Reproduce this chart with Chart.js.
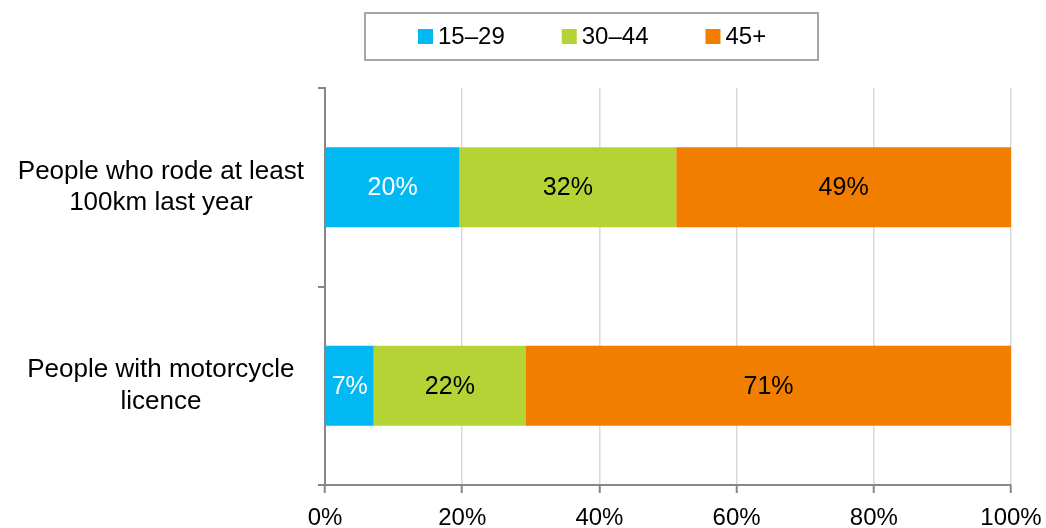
<!DOCTYPE html>
<html>
<head>
<meta charset="utf-8">
<script src="https://cdn.jsdelivr.net/npm/chart.js@4"></script>
<style>
  html, body { margin: 0; padding: 0; background: #ffffff; }
  #wrap { width: 1046px; height: 528px; position: relative; }
</style>
</head>
<body>
<div id="wrap"><canvas id="c"></canvas></div>
<script>
// ---- data ----
const categories = [
  ['People who rode at least', '100km last year'],
  ['People with motorcycle', 'licence']
];
const seriesNames = ['15–29', '30–44', '45+'];
const age15to29 = [19.6, 7.1];
const age30to44 = [31.6, 22.2];
const age45plus = [48.8, 70.7];
const xTicks = [0, 20, 40, 60, 80, 100];

// ---- styles ----
const FONT = "'Liberation Sans', Arial, sans-serif";
const colors = ['#00B9F2', '#B5D334', '#F27E00'];
const labelColors = ['#ffffff', '#000000', '#000000'];
const axisGray = '#878787';

const dataLabelPlugin = {
  id: 'dataLabels',
  afterDatasetsDraw(chart) {
    const ctx = chart.ctx;
    ctx.save();
    ctx.font = '25px ' + FONT;
    ctx.textAlign = 'center';
    ctx.textBaseline = 'middle';
    chart.data.datasets.forEach((ds, i) => {
      const meta = chart.getDatasetMeta(i);
      meta.data.forEach((bar, j) => {
        const v = ds.data[j];
        ctx.fillStyle = labelColors[i];
        ctx.fillText(Math.round(v) + '%', (bar.x + bar.base) / 2, bar.y + 1);
      });
    });
    ctx.restore();
  }
};

const boxLegendPlugin = {
  id: 'boxLegend',
  afterDraw(chart) {
    const ctx = chart.ctx;
    const box = { left: 365, top: 13, right: 818, bottom: 60 };
    ctx.save();
    ctx.strokeStyle = '#a6a6a6';
    ctx.lineWidth = 2;
    ctx.strokeRect(box.left, box.top, box.right - box.left, box.bottom - box.top);
    ctx.font = '24px ' + FONT;
    ctx.textBaseline = 'middle';
    ctx.textAlign = 'left';
    const sq = 15, gapText = 5, gapItem = 57;
    const items = chart.data.datasets.map(d => ({ label: d.label, color: d.backgroundColor, w: ctx.measureText(d.label).width }));
    let x = 418;
    const cy = (box.top + box.bottom) / 2;
    items.forEach(it => {
      ctx.fillStyle = it.color;
      ctx.fillRect(x, cy - sq / 2, sq, sq);
      ctx.fillStyle = '#000000';
      ctx.fillText(it.label, x + sq + gapText, cy + 1);
      x += sq + gapText + it.w + gapItem;
    });
    ctx.restore();
  }
};

const seriesData = [age15to29, age30to44, age45plus];

new Chart(document.getElementById('c'), {
  type: 'bar',
  data: {
    labels: categories,
    datasets: seriesNames.map((name, i) => ({
      label: name,
      data: seriesData[i],
      backgroundColor: colors[i],
      borderWidth: 0,
      categoryPercentage: 0.403,
      barPercentage: 1
    }))
  },
  options: {
    indexAxis: 'y',
    responsive: true,
    maintainAspectRatio: false,
    animation: false,
    layout: { padding: { top: 88, right: 35, bottom: 0, left: 0 } },
    plugins: {
      legend: { display: false },
      tooltip: { enabled: false }
    },
    scales: {
      x: {
        stacked: true,
        min: 0,
        max: 100,
        afterBuildTicks(scale) { scale.ticks = xTicks.map(v => ({ value: v })); },
        afterFit(scale) {
          scale.height = 43;
          scale.paddingLeft = 0;
          scale.paddingRight = 0;
        },
        ticks: {
          callback: v => v + '%',
          font: { family: FONT, size: 24 },
          color: '#000000',
          padding: 11,
          maxRotation: 0
        },
        grid: {
          color: '#d9d9d9',
          lineWidth: 1.5,
          tickColor: axisGray,
          tickLength: 8,
          tickWidth: 2
        },
        border: { display: true, color: axisGray, width: 2 }
      },
      y: {
        stacked: true,
        afterFit(scale) {
          scale.width = 325;
          scale.paddingTop = 0;
          scale.paddingBottom = 0;
        },
        ticks: {
          font: { family: FONT, size: 26 },
          color: '#000000',
          crossAlign: 'center',
          padding: 14
        },
        grid: {
          offset: true,
          drawOnChartArea: false,
          color: axisGray,
          lineWidth: 2,
          tickLength: 7
        },
        border: { display: true, color: axisGray, width: 2 }
      }
    }
  },
  plugins: [dataLabelPlugin, boxLegendPlugin]
});
</script>
</body>
</html>
